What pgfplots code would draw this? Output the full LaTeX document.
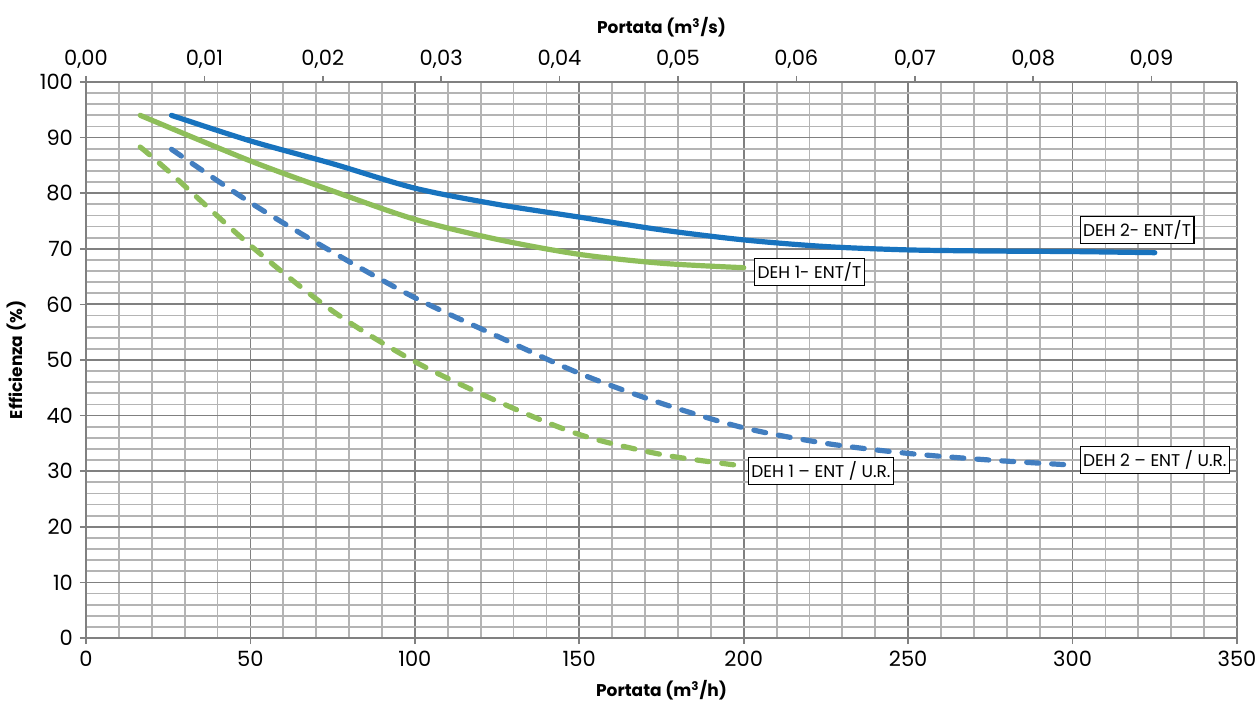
\documentclass[border=0pt]{standalone}
\usepackage{fontspec}
\setmainfont{Poppins}
\usepackage{pgfplots}
\pgfplotsset{compat=1.18}
\definecolor{blueS}{RGB}{24,115,190}
\definecolor{blueD}{RGB}{66,126,192}
\definecolor{greenL}{RGB}{142,190,90}
\definecolor{gridmin}{RGB}{180,180,180}
\definecolor{gridmaj}{RGB}{128,128,128}
\begin{document}
\begin{tikzpicture}
\begin{axis}[name=ax,
 scale only axis, width=575.5pt, height=278pt,
 xmin=0, xmax=350, ymin=0, ymax=100,
 xtick={0,50,...,350}, ytick={0,10,...,100},
 minor xtick={10,20,...,340}, minor ytick={2,4,...,98},
 grid=both,
 major grid style={gridmaj, line width=0.9pt},
 minor grid style={gridmin, line width=0.9pt},
 axis x line*=bottom, axis y line*=left,
 axis line style={gridmaj, line width=0.9pt, -},
 tick align=outside,
 major tick length=3pt, minor tick length=0pt,
 tick style={gridmaj, line width=0.8pt},
 tick label style={font=\fontsize{10.5}{12}\selectfont, text=black},
 /pgf/number format/assume math mode=true,
 xlabel={\textbf{Portata (m\textsuperscript{3}/h)}},
 ylabel={\textbf{Efficienza (\%)}},
 label style={font=\fontsize{8.5}{10}\selectfont},
 clip=false,
]
\addplot[blueS, line width=2.6pt, line cap=round, smooth] coordinates {
 (26,94.0) (50,89.4) (75,85.3) (100,80.9) (125,78.0) (150,75.7) (175,73.4) (200,71.6) (225,70.4) (250,69.8) (275,69.6) (300,69.5) (325,69.3)};
\addplot[greenL, line width=2.6pt, line cap=round, smooth] coordinates {
 (16.5,94.0) (50,85.8) (75,80.4) (100,75.3) (125,71.7) (150,69.0) (175,67.4) (200,66.6)};
\addplot[blueD, line width=2.6pt, line cap=round, smooth, dash pattern=on 6pt off 6.5pt] coordinates {
 (26,87.9) (50,78.3) (75,69.4) (100,61.2) (125,54.3) (150,47.6) (175,42.2) (200,37.8) (225,35.0) (250,33.2) (275,32.0) (300,31.1)};
\addplot[greenL, line width=2.6pt, line cap=round, smooth, dash pattern=on 6pt off 6.5pt] coordinates {
 (16.5,88.3) (25,84.0) (50,70.6) (75,58.8) (100,49.7) (125,42.6) (150,36.6) (175,33.0) (199,31.0)};
\begin{scope}[every node/.style={draw=black, fill=white, line width=0.6pt, inner xsep=1.5pt, inner ysep=2pt, font=\fontsize{8.5}{10}\selectfont}]
\node at (axis cs:319.6,73.4) {DEH 2- ENT/T};
\node at (axis cs:220,65.8) {DEH 1- ENT/T};
\node at (axis cs:223.5,30.0) {DEH 1 – ENT / U.R.};
\node at (axis cs:325,32.0) {DEH 2 – ENT / U.R.};
\end{scope}
\end{axis}
\begin{axis}[
 scale only axis, width=575.5pt, height=278pt,
 xmin=0, xmax=0.0972222, ymin=0, ymax=100,
 axis x line*=top, axis y line=none,
 scaled x ticks=false,
 xtick={0,0.01,0.02,0.03,0.04,0.05,0.06,0.07,0.08,0.09},
 xticklabels={{0,00},{0,01},{0,02},{0,03},{0,04},{0,05},{0,06},{0,07},{0,08},{0,09}},
 axis line style={gridmaj, line width=0.9pt, -},
 tick align=outside,
 major tick length=3pt,
 tick style={gridmaj, line width=0.8pt},
 tick label style={font=\fontsize{10.5}{12}\selectfont, text=black},
 xlabel={\textbf{Portata (m\textsuperscript{3}/s)}},
 label style={font=\fontsize{8.5}{10}\selectfont},
]
\end{axis}
\pgfresetboundingbox
\path[use as bounding box] ([shift={(-43pt,-36.5pt)}]ax.south west) rectangle ([shift={(11.5pt,41pt)}]ax.north east);
\end{tikzpicture}
\end{document}
